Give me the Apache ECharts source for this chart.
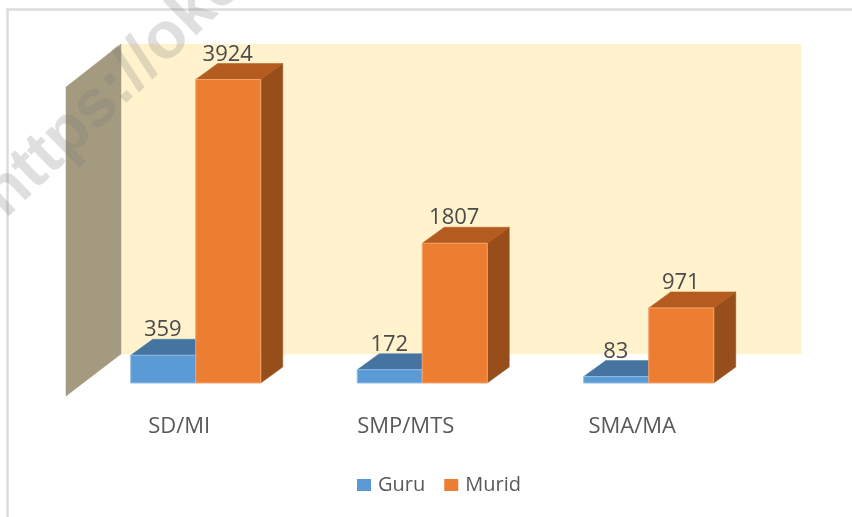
<!DOCTYPE html>
<html>
<head>
<meta charset="utf-8">
<style>html,body{margin:0;padding:0;background:#fff}#c{width:852px;height:517px}</style>
<script src="https://cdn.jsdelivr.net/npm/echarts@6/dist/echarts.min.js"></script>
</head>
<body>
<div id="c"></div>
<script>
const categories = ['SD/MI', 'SMP/MTS', 'SMA/MA'];
const guru = [359, 172, 83];
const murid = [3924, 1807, 971];
const axisMax = 4000;

const FONT = '"Open Sans", sans-serif';
const BAR_SHARE = 0.287;
const DX = 22, DY = -16;

function poly(points, fill, stroke) {
  return { type: 'polygon', shape: { points }, style: { fill, stroke: stroke || fill, lineWidth: stroke ? 1 : 0.5 } };
}

function barRenderer(side, front, top, right, edge) {
  return function (params, api) {
    const base = api.coord([api.value(0), 0]);
    const head = api.coord([api.value(0), api.value(1)]);
    const w = api.size([1, 0])[0] * BAR_SHARE;
    const x0 = side < 0 ? base[0] - w : base[0];
    const x1 = x0 + w;
    const yb = base[1], yt = head[1];
    return {
      type: 'group',
      children: [
        poly([[x1, yb], [x1 + DX, yb + DY], [x1 + DX, yt + DY], [x1, yt]], right),
        poly([[x0, yt], [x0 + DX, yt + DY], [x1 + DX, yt + DY], [x1, yt]], top),
        poly([[x0, yb], [x1, yb], [x1, yt], [x0, yt]], front, edge),
        {
          type: 'text',
          x: (x0 + x1) / 2 - 0.5,
          y: yt - 25,
          z2: 20,
          style: {
            text: String(api.value(1)),
            fill: '#4a4a4a',
            font: '22px ' + FONT,
            textAlign: 'center',
            textVerticalAlign: 'middle'
          }
        }
      ]
    };
  };
}

function wallRenderer(params) {
  const g = params.coordSys;
  const left = g.x, right = g.x + g.width, top = g.y, bottom = g.y + g.height;
  return {
    type: 'group',
    children: [
      poly([[left + 38.5, top - 29.5], [right + 39, top - 29.5], [right + 39, bottom - 29], [left + 38.5, bottom - 29]], '#fff2cc'),
      poly([[left - 16.5, top + 13.5], [left + 38.5, top - 29.5], [left + 38.5, bottom - 29], [left - 16.5, bottom + 13]], '#a39a80')
    ]
  };
}

const chart = echarts.init(document.getElementById('c'), null, { renderer: 'canvas' });
chart.setOption({
  animation: false,
  backgroundColor: '#fff',
  grid: { left: 82.5, right: 90, top: 73.6, bottom: 134 },
  xAxis: {
    type: 'category',
    data: categories,
    axisLine: { show: false },
    axisTick: { show: false },
    splitLine: { show: false },
    axisLabel: { color: '#595959', fontFamily: FONT, fontSize: 22, margin: 33, padding: [0, 33, 0, 0], interval: 0 }
  },
  yAxis: { type: 'value', min: 0, max: axisMax, show: false, splitLine: { show: false } },
  legend: {
    data: ['Guru', 'Murid'],
    left: 352,
    top: 470,
    icon: 'rect',
    itemWidth: 14,
    itemHeight: 12,
    itemGap: 19,
    textStyle: { color: '#595959', fontFamily: FONT, fontSize: 20, padding: [0, 0, 0, 2] }
  },
  graphic: [
    { type: 'polyline', z: 50, silent: true, shape: { points: [[7.5, 517], [7.5, 9.5], [852, 9.5]] }, style: { fill: 'none', stroke: '#dcdcdc', lineWidth: 2.5 } },
    { type: 'text', z: 60, silent: true, x: 16, y: 230, rotation: Math.PI * 44 / 180, originX: 0, originY: 0,
      style: { text: 'https://oke', fill: 'rgba(120,120,120,0.24)', font: 'bold 66px "Liberation Sans", sans-serif', textAlign: 'left', textVerticalAlign: 'bottom' } }
  ],
  series: [
    { type: 'custom', name: 'Wall', silent: true, z: 1, clip: false, itemStyle: { color: '#fff2cc' }, renderItem: wallRenderer, data: [[0, 0]], encode: { x: 0, y: 1 } },
    { type: 'custom', name: 'Guru', z: 2, clip: false, itemStyle: { color: '#5b9bd5' }, renderItem: barRenderer(-1, '#5b9bd5', '#44749f', '#44749f', '#8dbce6'), data: guru.map((v, i) => [i, v]), encode: { x: 0, y: 1 } },
    { type: 'custom', name: 'Murid', z: 3, clip: false, itemStyle: { color: '#ed7d31' }, renderItem: barRenderer(1, '#ed7d31', '#b45b1f', '#974e1a', '#f4a36d'), data: murid.map((v, i) => [i, v]), encode: { x: 0, y: 1 } }
  ]
});
</script>
</body>
</html>
